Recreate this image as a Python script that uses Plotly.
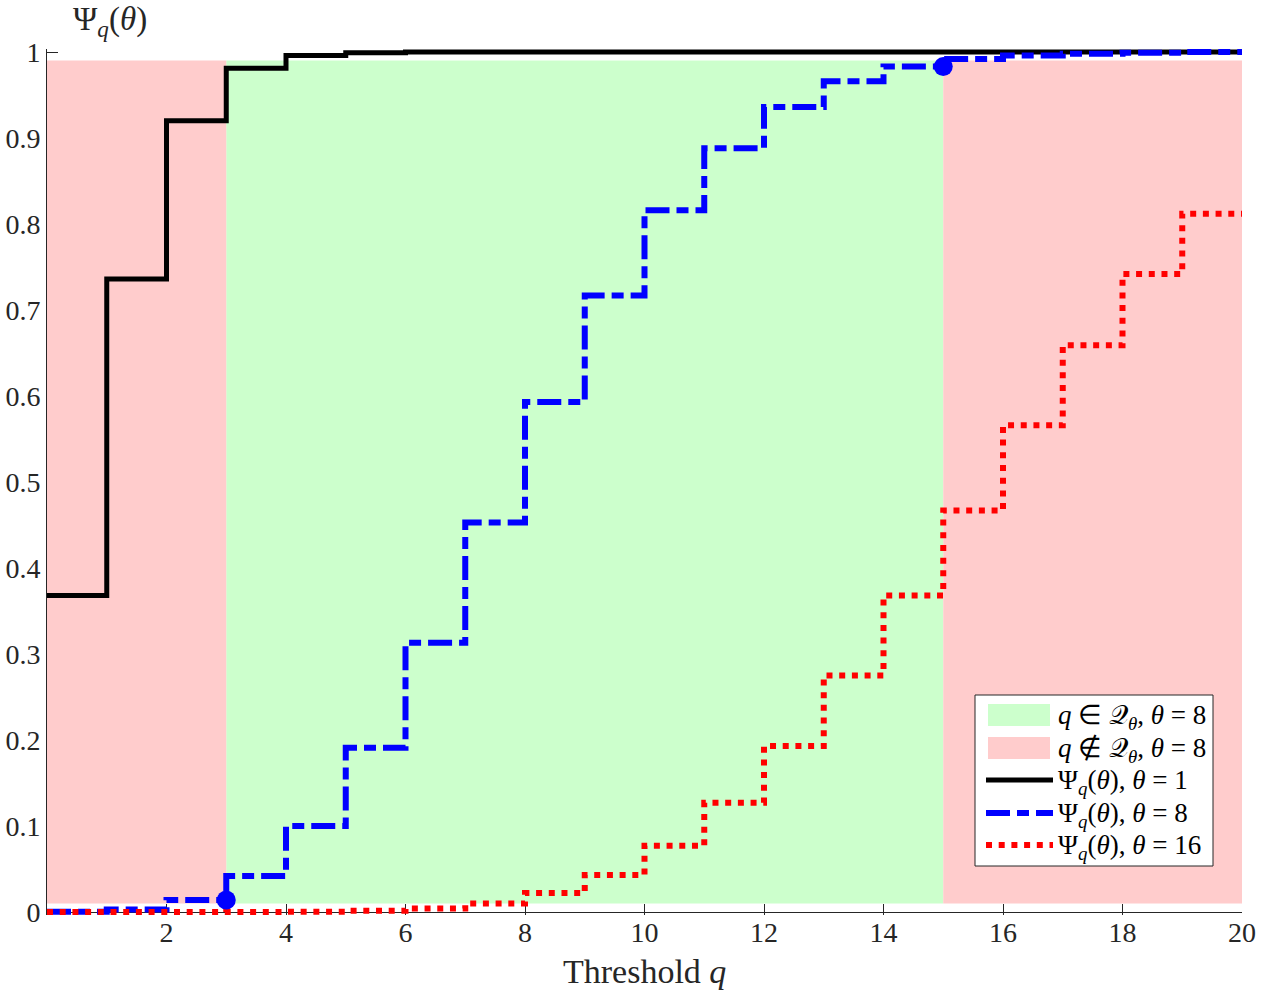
import plotly.graph_objects as go

# ---------------- data ----------------
thresholds = list(range(0, 21))  # q = 0 .. 20
psi_theta1 = [0.368, 0.736, 0.920, 0.981, 0.996, 0.999, 1.000, 1.000, 1.000, 1.000,
              1.000, 1.000, 1.000, 1.000, 1.000, 1.000, 1.000, 1.000, 1.000, 1.000]
psi_theta8 = [0.0003, 0.003, 0.014, 0.042, 0.100, 0.191, 0.313, 0.453, 0.593, 0.717,
              0.816, 0.888, 0.936, 0.966, 0.983, 0.992, 0.996, 0.998, 0.999, 1.000]
psi_theta16 = [0.0, 0.0, 0.0, 0.0001, 0.0004, 0.0014, 0.004, 0.010, 0.022, 0.043,
               0.077, 0.127, 0.193, 0.275, 0.368, 0.467, 0.566, 0.659, 0.742, 0.812]
q_in_set = [3, 15]          # range of Q_theta for theta = 8
shade_y = [0.01, 0.99]      # vertical extent of the shaded regions
x_ticks = [2, 4, 6, 8, 10, 12, 14, 16, 18, 20]
y_ticks = [0, 0.1, 0.2, 0.3, 0.4, 0.5, 0.6, 0.7, 0.8, 0.9, 1]
y_tick_text = ["0", "0.1", "0.2", "0.3", "0.4", "0.5", "0.6", "0.7", "0.8", "0.9", "1"]

# ---------------- styles ----------------
FONT = "Liberation Serif"
AXIS = "#262626"
GREEN = "#CCFFCC"
PINK = "#FFCCCC"
BLUE = "#0000FF"
RED = "#FF0000"
BLACK_LINE = dict(color="black", width=5)
BLUE_LINE = dict(color=BLUE, width=6, dash="24px,7px,12px,7px")
RED_LINE = dict(color=RED, width=6, dash="6px,6.7px")

name_in = "<i>q</i> ∈ 𝒬<sub><i>θ</i></sub>, <i>θ</i> = 8"
name_out = "<i>q</i> ∉ 𝒬<sub><i>θ</i></sub>, <i>θ</i> = 8"


def psi_name(theta):
    return "Ψ<sub><i>q</i></sub>(<i>θ</i>), <i>θ</i> = %d" % theta


def stairs(vals):
    # value on [q, q+1) is vals[q]; extend last level to the right edge
    return thresholds, list(vals) + [vals[-1]]


W, H = 1261, 996
ML, MR, MT, MB = 47, 19, 49, 81
PW, PH = W - ML - MR, H - MT - MB


def px_x(p):  # page pixel -> paper x
    return (p - ML) / PW


def px_y(p):  # page pixel -> paper y
    return (H - MB - p) / PH


fig = go.Figure()

# shaded regions
x_lo, x_hi = thresholds[0], thresholds[-1]
a, b = q_in_set
y0, y1 = shade_y
fig.add_trace(go.Scatter(
    x=[a, b, b, a, a], y=[y0, y0, y1, y1, y0], mode="none", fill="toself",
    fillcolor=GREEN, name=name_in, showlegend=False, hoverinfo="skip"))
fig.add_trace(go.Scatter(
    x=[x_lo, a, a, x_lo, x_lo, None, b, x_hi, x_hi, b, b],
    y=[y0, y0, y1, y1, y0, None, y0, y0, y1, y1, y0], mode="none", fill="toself",
    fillcolor=PINK, name=name_out, showlegend=False, hoverinfo="skip"))

# CDF step curves
x1, y1s = stairs(psi_theta1)
fig.add_trace(go.Scatter(x=x1, y=y1s, mode="lines", line_shape="hv",
                         line=BLACK_LINE, name=psi_name(1), showlegend=False))
x8, y8s = stairs(psi_theta8)
fig.add_trace(go.Scatter(x=x8, y=y8s, mode="lines", line_shape="hv",
                         line=BLUE_LINE, name=psi_name(8), showlegend=False))
x16, y16s = stairs(psi_theta16)
fig.add_trace(go.Scatter(x=x16, y=y16s, mode="lines", line_shape="hv",
                         line=RED_LINE, name=psi_name(16), showlegend=False))

# boundary markers of Q_theta on the theta = 8 curve
fig.add_trace(go.Scatter(x=q_in_set, y=[psi_theta8[q - 1] for q in q_in_set],
                         mode="markers",
                         marker=dict(color=BLUE, size=19, symbol="circle"),
                         showlegend=False, cliponaxis=False))

# ---------------- legend (boxed, MATLAB style) ----------------
shapes = [dict(type="rect", xref="paper", yref="paper", layer="above",
               x0=px_x(975), x1=px_x(1213), y0=px_y(866), y1=px_y(695),
               fillcolor="white", line=dict(color=AXIS, width=1))]
annotations = []
row_y = [715, 748, 780, 813, 845]
labels = [name_in, name_out, psi_name(1), psi_name(8), psi_name(16)]
patch_colors = [GREEN, PINK]
line_styles = [BLACK_LINE, BLUE_LINE, RED_LINE]
for i, (ry, lab) in enumerate(zip(row_y, labels)):
    if i < 2:
        shapes.append(dict(type="rect", xref="paper", yref="paper", layer="above",
                           x0=px_x(988), x1=px_x(1050), y0=px_y(ry + 11),
                           y1=px_y(ry - 11), fillcolor=patch_colors[i],
                           line=dict(width=0)))
    else:
        shapes.append(dict(type="line", xref="paper", yref="paper", layer="above",
                           x0=px_x(986), x1=px_x(1053), y0=px_y(ry), y1=px_y(ry),
                           line=line_styles[i - 2]))
    annotations.append(dict(text=lab, x=px_x(1056), y=px_y(ry + 2), xref="paper",
                            yref="paper", xanchor="left", yanchor="middle",
                            showarrow=False,
                            font=dict(family=FONT, size=27, color="black")))

annotations += [
    dict(text="Threshold <i>q</i>", x=0.5, y=px_y(971), xref="paper", yref="paper",
         xanchor="center", yanchor="middle", showarrow=False, borderpad=0,
         font=dict(family=FONT, size=34, color=AXIS)),
    dict(text="Ψ<sub><i>q</i></sub>(<i>θ</i>)", x=px_x(110), y=px_y(22), xref="paper",
         yref="paper", xanchor="center", yanchor="middle", showarrow=False,
         font=dict(family=FONT, size=33, color=AXIS)),
]

PAD = 3 / 860.0  # a few pixels of head-room so thick lines at 0 and 1 are not clipped

fig.update_layout(
    width=W, height=H,
    margin=dict(l=ML, r=MR, t=MT, b=MB),
    paper_bgcolor="white", plot_bgcolor="white",
    font=dict(family=FONT, size=28, color=AXIS),
    showlegend=False,
    xaxis=dict(range=[0, 20], tickvals=x_ticks, ticks="inside", ticklen=11,
               tickcolor=AXIS, showline=False, showgrid=False, zeroline=False,
               layer="below traces", automargin=False, ticklabelstandoff=-2,
               tickfont=dict(size=28)),
    yaxis=dict(range=[-PAD, 1 + PAD], tickvals=y_ticks, ticktext=y_tick_text,
               ticks="inside", ticklen=11, tickcolor=AXIS, showline=True,
               linecolor=AXIS, linewidth=1, showgrid=False,
               zeroline=True, zerolinecolor=AXIS, zerolinewidth=1,
               layer="below traces", automargin=False, tickfont=dict(size=28)),
    shapes=shapes,
    annotations=annotations,
)

fig.write_html("out.html")
